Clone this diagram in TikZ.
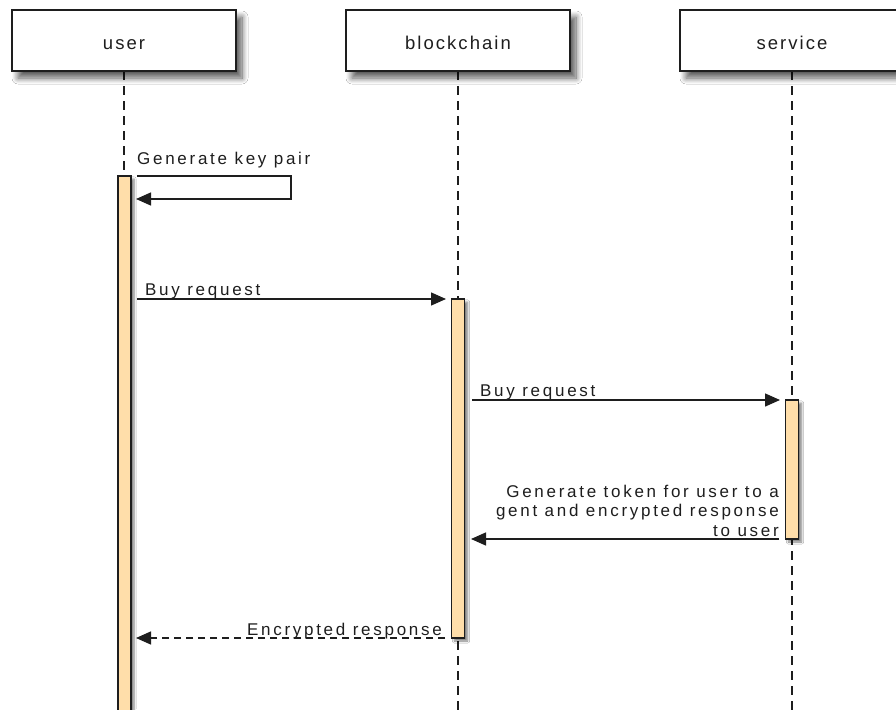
\documentclass[tikz,border=0pt]{standalone}
\usepackage{fontspec}
\setmainfont{Liberation Sans}
\newfontfamily\lblfont{Liberation Sans}[LetterSpace=16]
\newfontfamily\headfont{Liberation Sans}[LetterSpace=11]
\usetikzlibrary{arrows.meta,shadows.blur}
\definecolor{barfill}{RGB}{255,222,170}
\definecolor{ink}{RGB}{30,30,30}
\tikzset{
  headbox/.style={draw=ink, line width=1.5pt, fill=white, minimum width=224pt, minimum height=61pt,
    inner sep=0pt, text height=22pt, text depth=3pt, font=\headfont\fontsize{18.5}{22}\selectfont, text=ink,
    blur shadow={shadow xshift=6pt, shadow yshift=-7pt, shadow blur steps=10, shadow blur radius=6pt, shadow opacity=65}},
  actbar/.style={draw=ink, line width=1.4pt, fill=barfill, minimum width=13pt, inner sep=0pt,
    blur shadow={shadow xshift=3pt, shadow yshift=-3pt, shadow blur steps=6, shadow opacity=50}},
  lifeline/.style={draw=ink, line width=1.5pt, dash pattern=on 9pt off 6pt},
  msg/.style={draw=ink, line width=1.4pt, -{Triangle[length=15pt,width=13pt]}},
  msglbl/.style={inner sep=0pt, font=\lblfont\fontsize{17}{19.5}\selectfont, text=ink}
}
\begin{document}
\begin{tikzpicture}[x=1pt,y=-1pt]
\useasboundingbox (0,0) rectangle (896,709);
\fill[white] (0,0) rectangle (896,709);
% lifelines
\coordinate (uend) at (124,176);
\coordinate (bend) at (458,712);
\coordinate (send) at (792,712);
\draw[lifeline] (124,71) -- (uend);
\draw[lifeline] (458,71) -- (bend);
\draw[lifeline] (792,71) -- (send);
% heads
\node[headbox] (user) at (124,40.5) {user};
\node[headbox] (chain) at (458,40.5) {blockchain};
\node[headbox] (serv) at (792,40.5) {service};
% activation bars
\node[actbar, minimum height=540pt] (ubar) at (124.5,446) {};
\node[actbar, minimum height=339pt] (bbar) at (458,468.5) {};
\node[actbar, minimum height=139pt] (sbar) at (792,469.5) {};
% self message
\coordinate (k1) at (137,176);
\coordinate (k2) at (291,176);
\coordinate (k3) at (291,199);
\coordinate (k4) at (136,199);
\draw[msg] (k1) -- (k2) -- (k3) -- (k4);
\node[msglbl, anchor=base west] (lk) at (137,164) {Generate key pair};
% buy request 1
\coordinate (b1s) at (137,299);
\coordinate (b1e) at (446,299);
\draw[msg] (b1s) -- (b1e);
\node[msglbl, anchor=base west] (lb1) at (145,295.5) {Buy request};
% buy request 2
\coordinate (b2s) at (472,400);
\coordinate (b2e) at (780,400);
\draw[msg] (b2s) -- (b2e);
\node[msglbl, anchor=base west] (lb2) at (480,396.5) {Buy request};
% token response
\coordinate (t1s) at (779,539);
\coordinate (t1e) at (471,539);
\draw[msg] (t1s) -- (t1e);
\node[msglbl, anchor=base east, align=right] (lt) at (779,536) {Generate token for user to a\\gent and encrypted response\\to user};
% encrypted response
\coordinate (e1s) at (445,638);
\coordinate (e1e) at (136,638);
\draw[msg, dash pattern=on 7pt off 5pt] (e1s) -- (e1e);
\node[msglbl, anchor=base east] (le) at (442,635.5) {Encrypted response};
\end{tikzpicture}
\end{document}
